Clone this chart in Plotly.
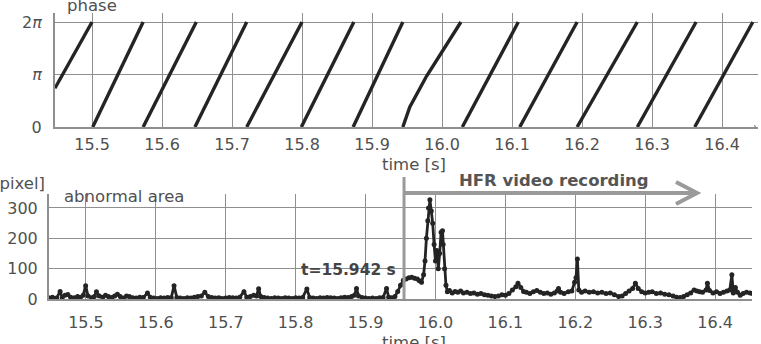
import math
import plotly.graph_objects as go

W, H = 761, 344
TWO_PI = 2 * math.pi

# ---------------- data ----------------
# phase (top panel): sawtooth segments, each listed as points (time, phase)
phase_segments = [
    [(15.447, 2.32), (15.500, TWO_PI)],
    [(15.501, 0.0), (15.573, TWO_PI)],
    [(15.573, 0.0), (15.649, TWO_PI)],
    [(15.647, 0.0), (15.721, TWO_PI)],
    [(15.721, 0.0), (15.800, TWO_PI)],
    [(15.799, 0.0), (15.874, TWO_PI)],
    [(15.873, 0.0), (15.944, TWO_PI)],
    [(15.944, 0.0), (15.954, 1.2), (15.978, 3.05), (16.027, TWO_PI)],
    [(16.029, 0.0), (16.109, TWO_PI)],
    [(16.111, 0.0), (16.193, TWO_PI)],
    [(16.193, 0.0), (16.279, TWO_PI)],
    [(16.279, 0.0), (16.363, TWO_PI)],
    [(16.361, 0.0), (16.444, TWO_PI)],
    [(16.447, 0.0), (16.448, 0.02)],
]

# abnormal area (bottom panel)
area_t = [
    15.447, 15.452, 15.458, 15.463, 15.466, 15.470, 15.474, 15.478, 15.483, 15.488,
    15.492, 15.496, 15.4995, 15.503, 15.508, 15.512, 15.515, 15.519, 15.524, 15.528,
    15.532, 15.537, 15.541, 15.545, 15.549, 15.554, 15.558, 15.562, 15.567, 15.572,
    15.577, 15.582, 15.588, 15.592, 15.597, 15.602, 15.607, 15.612, 15.617, 15.622,
    15.626, 15.630, 15.635, 15.640, 15.645, 15.650, 15.655, 15.660, 15.665, 15.670,
    15.675, 15.680, 15.685, 15.690, 15.695, 15.700, 15.705, 15.710, 15.715, 15.720,
    15.726, 15.730, 15.735, 15.740, 15.744, 15.747, 15.750, 15.755, 15.760, 15.765,
    15.770, 15.775, 15.780, 15.785, 15.790, 15.795, 15.800, 15.805, 15.810, 15.816,
    15.820, 15.825, 15.830, 15.835, 15.840, 15.845, 15.850, 15.855, 15.860, 15.865,
    15.870, 15.875, 15.880, 15.884, 15.887, 15.890, 15.895, 15.900, 15.905, 15.910,
    15.915, 15.920, 15.925, 15.930, 15.933, 15.937, 15.942, 15.946, 15.950, 15.954,
    15.958, 15.962, 15.966, 15.970, 15.974, 15.977, 15.980, 15.983, 15.985, 15.987,
    15.989, 15.990, 15.992, 15.994, 15.996, 15.998, 16.000, 16.002, 16.004, 16.006,
    16.008, 16.010, 16.011, 16.013, 16.015, 16.017, 16.020, 16.024, 16.028, 16.032,
    16.036, 16.040, 16.045, 16.050, 16.055, 16.060, 16.065, 16.070, 16.075, 16.080,
    16.085, 16.090, 16.095, 16.100, 16.105, 16.110, 16.115, 16.118, 16.122, 16.126,
    16.130, 16.135, 16.140, 16.145, 16.150, 16.155, 16.160, 16.165, 16.170, 16.174,
    16.176, 16.179, 16.184, 16.190, 16.195, 16.199, 16.201, 16.203, 16.205, 16.209,
    16.214, 16.220, 16.226, 16.232, 16.238, 16.244, 16.250, 16.256, 16.262, 16.267,
    16.272, 16.277, 16.282, 16.286, 16.290, 16.295, 16.300, 16.305, 16.310, 16.316,
    16.322, 16.328, 16.334, 16.340, 16.345, 16.350, 16.355, 16.360, 16.365, 16.370,
    16.374, 16.378, 16.382, 16.387, 16.389, 16.392, 16.397, 16.402, 16.407, 16.412,
    16.417, 16.421, 16.424, 16.426, 16.429, 16.432, 16.436, 16.440, 16.445, 16.450,
    16.453,
]
area_v = [
    4, 6, 3, 25, 5, 12, 15, 6, 4, 8,
    5, 12, 44, 10, 4, 8, 24, 10, 6, 12,
    8, 5, 10, 16, 8, 3, 10, 8, 4, 3,
    6, 5, 20, 6, 3, 2, 4, 3, 5, 4,
    44, 5, 3, 2, 4, 3, 6, 8, 10, 22,
    8, 5, 3, 4, 2, 3, 5, 4, 3, 6,
    24, 6, 8, 12, 10, 34, 8, 5, 3, 2,
    4, 3, 2, 4, 3, 2, 4, 3, 5, 33,
    5, 3, 2, 4, 3, 5, 4, 3, 2, 4,
    6, 5, 8, 12, 35, 10, 5, 3, 2, 3,
    2, 4, 5, 35, 6, 4, 8, 25, 45, 62,
    66, 70, 72, 68, 66, 60, 55, 80, 125, 200,
    258, 300, 327, 290, 250, 180, 125, 160, 100, 150,
    220, 225, 180, 100, 45, 24, 28, 20, 25, 22,
    26, 20, 22, 18, 20, 16, 18, 14, 12, 10,
    8, 10, 14, 12, 18, 30, 40, 52, 38, 25,
    22, 18, 24, 28, 22, 18, 20, 16, 20, 26,
    35, 22, 18, 24, 26, 55, 70, 132, 30, 22,
    26, 22, 24, 20, 22, 18, 20, 14, 8, 10,
    18, 26, 35, 52, 35, 24, 20, 22, 24, 18,
    20, 16, 14, 10, 6, 5, 8, 14, 20, 30,
    26, 24, 22, 30, 52, 28, 20, 24, 18, 22,
    26, 30, 80, 20, 38, 22, 12, 18, 22, 20,
    18,
]

x_ticks = [15.5, 15.6, 15.7, 15.8, 15.9, 16.0, 16.1, 16.2, 16.3, 16.4]
x_ticktext = ["15.5", "15.6", "15.7", "15.8", "15.9", "16.0", "16.1", "16.2", "16.3", "16.4"]
phase_ticks = [0, math.pi, TWO_PI]
phase_ticktext = ["0", "<i>π</i>", "2<i>π</i>"]
area_ticks = [0, 100, 200, 300]
area_ticktext = ["0", "100", "200", "300"]

trigger_time = 15.955      # t = 15.942 s marker line position
record_end_time = 16.374   # end of HFR video recording arrow

# ---------------- figure ----------------
def px(x):
    return x / W

def py(y):
    return 1 - y / H

FONT = "DejaVu Sans"
TXT = "#505050"
GRID = "#8f8f8f"
ARROW = "#9a9a9a"
LINE = "#242424"

ph_t, ph_v = [], []
for seg in phase_segments:
    for t, v in seg:
        ph_t.append(t)
        ph_v.append(v)
    ph_t.append(None)
    ph_v.append(None)

fig = go.Figure()
fig.add_trace(go.Scatter(
    x=ph_t, y=ph_v, mode="lines", xaxis="x", yaxis="y",
    line=dict(color=LINE, width=3.4), connectgaps=False, showlegend=False,
))
fig.add_trace(go.Scatter(
    x=area_t, y=area_v, mode="lines+markers", xaxis="x2", yaxis="y2",
    line=dict(color=LINE, width=2.8), marker=dict(color=LINE, size=5),
    showlegend=False,
))

axis_common = dict(
    showgrid=True, gridcolor=GRID, gridwidth=1.4,
    showline=True, linecolor=GRID, linewidth=2,
    zeroline=False, ticks="", automargin=False,
    tickfont=dict(family=FONT, size=16, color=TXT),
)

fig.update_layout(
    width=W, height=H,
    margin=dict(l=0, r=0, t=0, b=0, pad=0),
    paper_bgcolor="white", plot_bgcolor="white",
    xaxis=dict(domain=[px(55), px(758)], range=[15.4471, 16.4514], anchor="y",
               tickvals=x_ticks, ticktext=x_ticktext, ticklabelstandoff=2, **axis_common),
    yaxis=dict(domain=[py(127), py(13)], range=[0, 6.822], anchor="x",
               tickvals=phase_ticks, ticktext=phase_ticktext, ticklabelstandoff=8, **axis_common),
    xaxis2=dict(domain=[px(49), px(752)], range=[15.4471, 16.4528], anchor="y2",
                tickvals=x_ticks, ticktext=x_ticktext, ticklabelstandoff=8, **axis_common),
    yaxis2=dict(domain=[py(299), py(194)], range=[0, 346], anchor="x2",
                tickvals=area_ticks, ticktext=area_ticktext, ticklabelstandoff=6, **axis_common),
    font=dict(family=FONT, color=TXT),
)

def label(text, x, y, size=16.5, xanchor="center", bold=False, color=TXT):
    fig.add_annotation(
        text=f"<b>{text}</b>" if bold else text,
        x=px(x), y=py(y), xref="paper", yref="paper",
        xanchor=xanchor, yanchor="middle", showarrow=False,
        font=dict(family=FONT, size=size, color=color),
    )

label("phase", 65, 5, xanchor="left")
label("time [s]", 414, 164)
label("[pixel]", 47, 184, xanchor="right")
label("abnormal area", 62, 196, xanchor="left")
label("time [s]", 414, 342)
label("HFR video recording", 554, 180, size=16.5, bold=True, color="#555555")
label("t=15.942 s", 348, 270, size=15.5, bold=True, color="#444444")

# trigger line and recording arrow
fig.add_shape(type="line", xref="x2", yref="paper",
              x0=trigger_time, x1=trigger_time, y0=py(299), y1=py(177),
              line=dict(color=ARROW, width=3))
fig.add_shape(type="line", xref="x2", yref="paper",
              x0=trigger_time, x1=record_end_time, y0=py(193), y1=py(193),
              line=dict(color=ARROW, width=4))
fig.add_shape(type="path", xref="paper", yref="paper",
              path=(f"M {px(676)} {py(182)} L {px(697)} {py(193)} "
                    f"L {px(676)} {py(204)}"),
              line=dict(color=ARROW, width=4))

fig.write_html("out.html")
